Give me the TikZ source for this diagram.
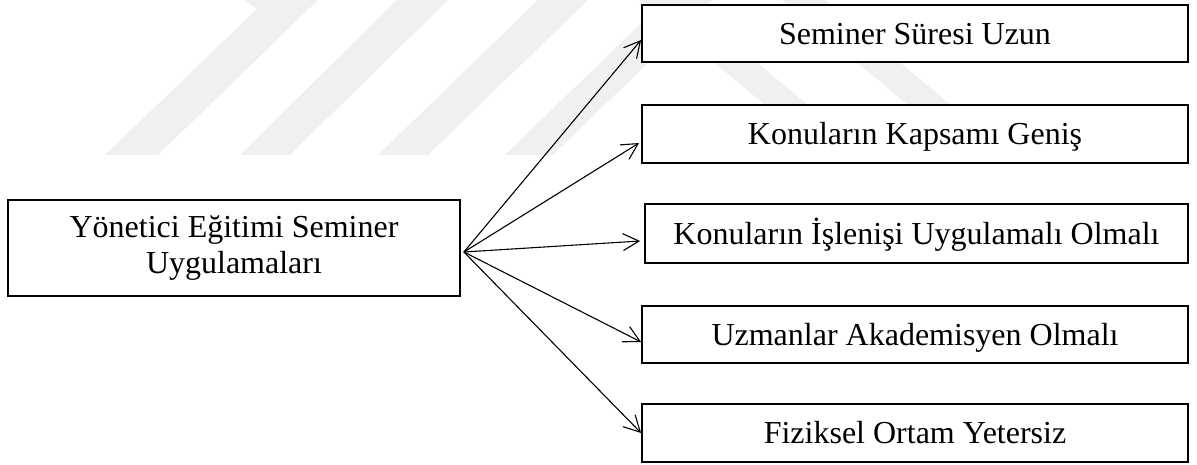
\documentclass[tikz,border=0pt]{standalone}
\usepackage{fontspec}
\setmainfont{Liberation Serif}
\usetikzlibrary{arrows.meta,calc}
\begin{document}
\begin{tikzpicture}[x=1pt,y=-1pt,
  txt/.style={font=\fontsize{32}{36}\selectfont},
  box/.style={txt, draw, line width=1.8pt, fill=white, minimum width=546pt, minimum height=57pt, inner sep=0pt, text height=21pt, text depth=0pt},
  mainbox/.style={txt, draw, line width=1.8pt, fill=white, minimum width=452pt, minimum height=96pt, inner sep=0pt, align=center},
  conn/.style={line width=1.1pt, -{Straight Barb[length=16pt,width=17pt]}},
  wm/.style={fill=black!6, draw=none}]
\useasboundingbox (0,0) rectangle (1197,464);
% faint watermark
\fill[wm] (105,155) -- (158,155) -- (318,0) -- (245,0) -- (257,9) -- cycle;
\fill[wm] (240,155) -- (290,155) -- (448,0) -- (397,0) -- cycle;
\fill[wm] (378,155) -- (428,155) -- (588,0) -- (538,0) -- cycle;
\fill[wm] (505,155) -- (553,155) -- (713,0) -- (665,0) -- cycle;
\fill[wm] (639,0) -- (682,0) -- (868,155) -- (825,155) -- cycle;
\fill[wm] (782,0) -- (825,0) -- (1011,155) -- (968,155) -- cycle;
% nodes
\node[mainbox] (L) at (234,248) {Yönetici Eğitimi Seminer\\Uygulamaları};
\node[box] (b1) at (915,33.5) {Seminer Süresi Uzun};
\node[box, minimum height=58pt] (b2) at (915,134) {Konuların Kapsamı Geniş};
\node[box, minimum width=543pt, minimum height=59pt] (b3) at (916.5,233.5) {Konuların İşlenişi Uygulamalı Olmalı};
\node[box] (b4) at (915,334.5) {Uzmanlar Akademisyen Olmalı};
\node[box, minimum height=58pt] (b5) at (915,433) {Fiziksel Ortam Yetersiz};
% connectors
\coordinate (s) at ($(L.east)+(3,4)$);
\draw[conn] (s) -- ($(b1.west)+(0,6.5)$);
\draw[conn] (s) -- ($(b2.west)+(-2,9)$);
\draw[conn] (s) -- ($(b3.west)+(-4,7.5)$);
\draw[conn] (s) -- ($(b4.west)+(0,7.5)$);
\draw[conn] (s) -- (b5.west);
\end{tikzpicture}
\end{document}
